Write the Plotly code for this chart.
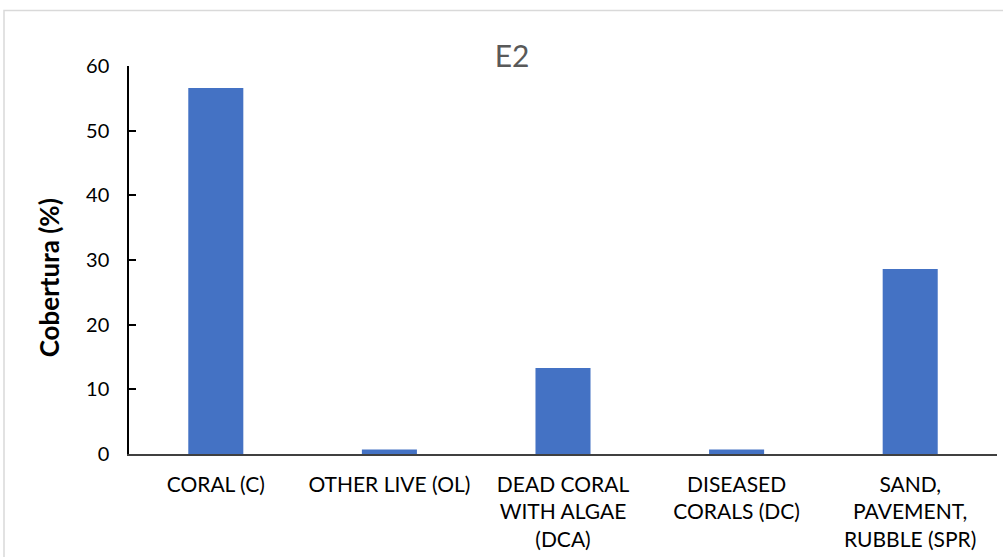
import plotly.graph_objects as go

# Benthic cover categories and their percent cover at station E2
categories = [
    "CORAL (C)",
    "OTHER LIVE (OL)",
    "DEAD CORAL<br>WITH ALGAE<br>(DCA)",
    "DISEASED<br>CORALS (DC)",
    "SAND,<br>PAVEMENT,<br>RUBBLE (SPR)",
]
cover = [56.6, 0.7, 13.3, 0.7, 28.6]
y_ticks = [0, 10, 20, 30, 40, 50, 60]

FONT = "Lato"

# Plot-area geometry in pixels, used to place the border and axis title in paper units
PLOT_LEFT, PLOT_TOP, PLOT_BOTTOM, PLOT_RIGHT = 129, 66, 457, 997
plot_w = PLOT_RIGHT - PLOT_LEFT
plot_h = PLOT_BOTTOM - PLOT_TOP

fig = go.Figure(
    go.Bar(
        x=categories,
        y=cover,
        marker=dict(color="#4472C4", line=dict(width=0)),
        width=0.317,
    )
)

fig.update_layout(
    width=1003,
    height=557,
    margin=dict(l=PLOT_LEFT, r=1003 - PLOT_RIGHT, t=PLOT_TOP, b=557 - PLOT_BOTTOM),
    paper_bgcolor="white",
    plot_bgcolor="white",
    showlegend=False,
    font=dict(family=FONT, color="black"),
    title=dict(
        text="E2",
        x=512 / 1003,
        xanchor="center",
        y=1 - 56 / 557,
        yanchor="middle",
        font=dict(family=FONT, size=30, color="#595959"),
    ),
    shapes=[
        dict(
            type="rect",
            xref="paper",
            yref="paper",
            x0=(4 - PLOT_LEFT) / plot_w,
            x1=(1010 - PLOT_LEFT) / plot_w,
            y0=(PLOT_BOTTOM - 570) / plot_h,
            y1=(PLOT_BOTTOM - 10) / plot_h,
            line=dict(color="#D9D9D9", width=1.5),
            fillcolor="rgba(0,0,0,0)",
            layer="below",
        )
    ],
    annotations=[
        dict(
            text="<b>Cobertura (%)</b>",
            textangle=-90,
            xref="paper",
            yref="paper",
            x=(49 - PLOT_LEFT) / plot_w,
            y=(PLOT_BOTTOM - 280) / plot_h,
            xanchor="center",
            yanchor="middle",
            showarrow=False,
            font=dict(family=FONT, size=26, color="black"),
        )
    ],
)

fig.update_xaxes(
    showline=True,
    linecolor="#404040",
    linewidth=1.5,
    showgrid=False,
    ticks="",
    tickfont=dict(family=FONT, size=21, color="black"),
    ticklabelstandoff=11,
)

fig.update_yaxes(
    range=[0, 60],
    tickvals=y_ticks,
    showline=True,
    linecolor="black",
    linewidth=1.5,
    showgrid=False,
    zeroline=False,
    ticks="inside",
    ticklen=7,
    tickcolor="black",
    tickwidth=1.5,
    tickfont=dict(family=FONT, size=20, color="black"),
    ticklabelstandoff=14,
)

fig.write_html("out.html")
